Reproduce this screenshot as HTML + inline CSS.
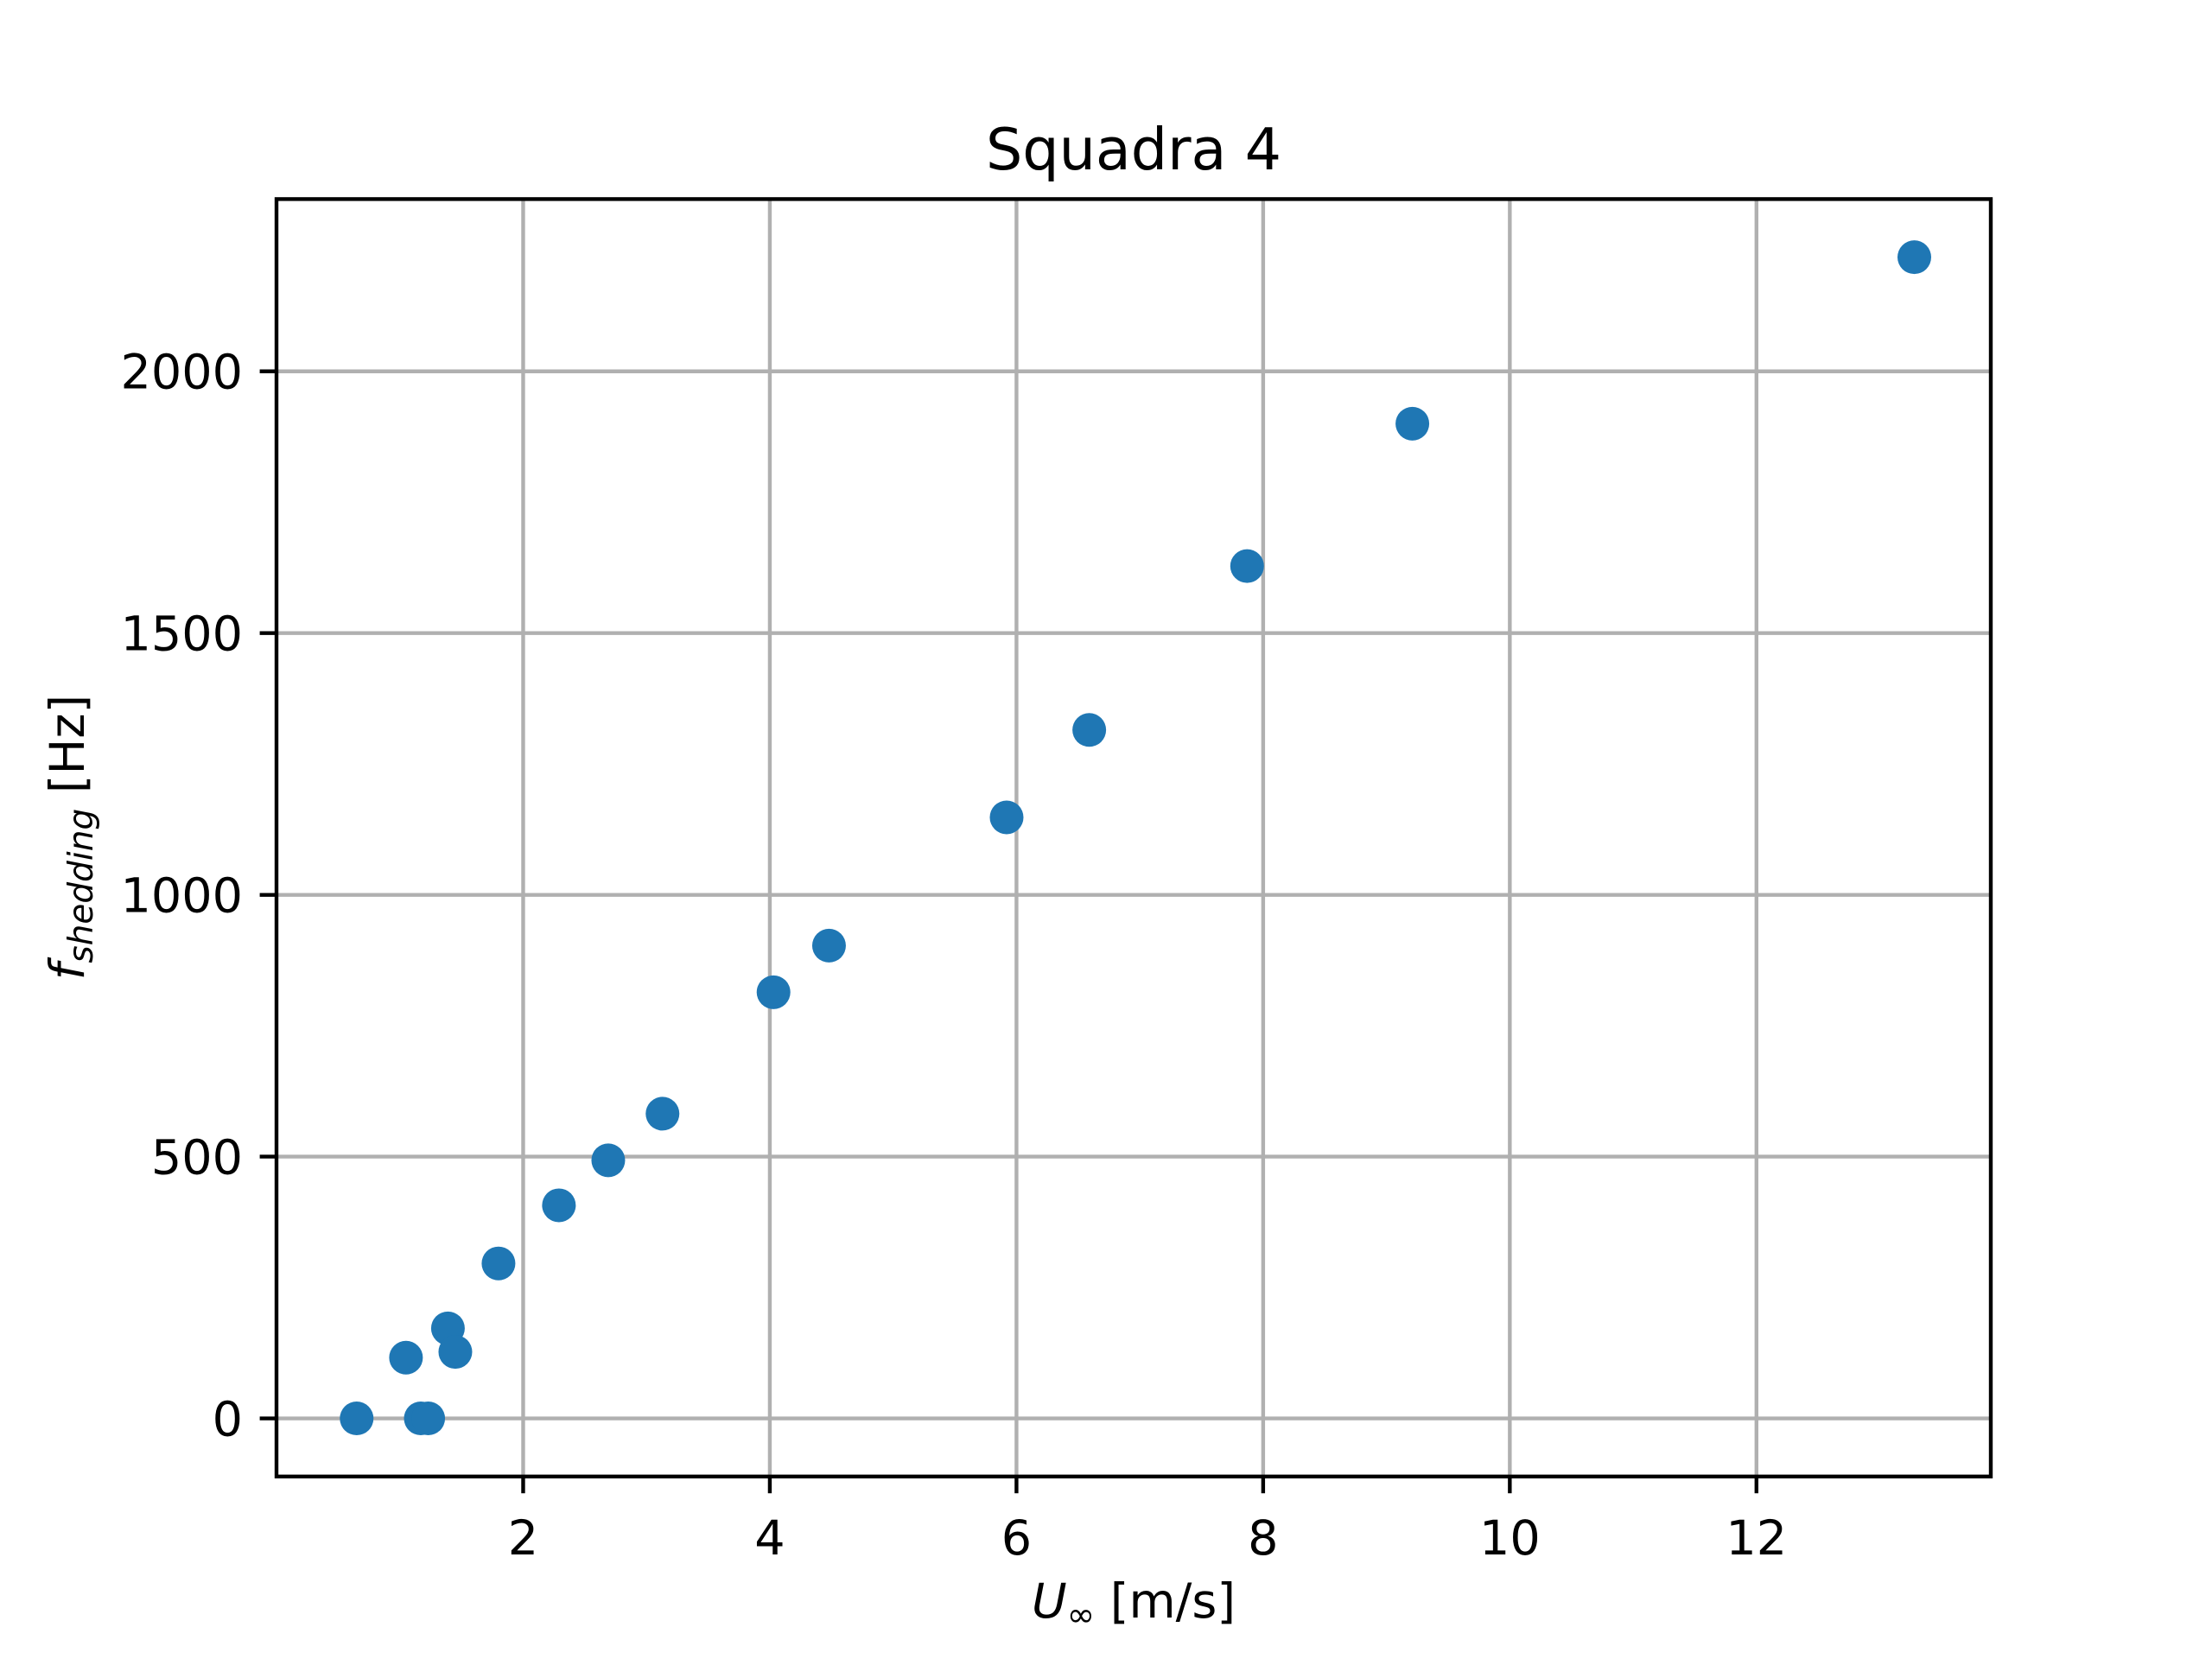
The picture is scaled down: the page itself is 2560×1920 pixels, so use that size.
<!DOCTYPE html>
<html><head><meta charset="utf-8"><style>
html,body{margin:0;padding:0;background:#fff;}
svg{display:block;font-family:"DejaVu Sans","Liberation Sans",sans-serif;}
</style></head><body>
<svg id="chart" width="2560" height="1920" viewBox="0 0 2560 1920" xmlns="http://www.w3.org/2000/svg">
<rect width="2560" height="1920" fill="#fff"/>
<g id="grid"></g>
<g id="ticks"></g>
<g id="points"></g>
<rect x="320" y="230.4" width="1984" height="1478.4" fill="none" stroke="#000" stroke-width="4.4"/>
<text x="1312" y="196" font-size="66.7" text-anchor="middle">Squadra 4</text>
<text x="1312" y="1872" font-size="55.6" text-anchor="middle"><tspan font-style="italic">U</tspan><tspan font-size="39" dy="10">∞</tspan><tspan dy="-10"> [m/s]</tspan></text>
<text transform="translate(97,969) rotate(-90)" font-size="55.6" text-anchor="middle"><tspan font-style="italic">f</tspan><tspan font-style="italic" font-size="39" dy="10">shedding</tspan><tspan dy="-10"> [Hz]</tspan></text>
</svg>
<script>
const xVals = [0.65, 1.05, 1.17, 1.23, 1.39, 1.45, 1.80, 2.29, 2.69, 3.13, 4.03, 4.48, 5.92, 6.59, 7.87, 9.21, 13.28];
const yVals = [0, 116, 0, 0, 172, 127, 296, 407, 493, 582, 814, 903, 1148, 1315, 1628, 1900, 2218];
const xTicks = [2, 4, 6, 8, 10, 12];
const yTicks = [0, 500, 1000, 1500, 2000];

const L = 320, R = 2304, T = 230.4, B = 1708.8;
const xMin = 0.0, xMax = 13.9, yMin = -111, yMax = 2329;
function sx(v){ return L + (v - xMin) / (xMax - xMin) * (R - L); }
function sy(v){ return B - (v - yMin) / (yMax - yMin) * (B - T); }
const NS = "http://www.w3.org/2000/svg";
const grid = document.getElementById('grid');
const ticks = document.getElementById('ticks');
const pts = document.getElementById('points');
function mk(tag, attrs){ const e = document.createElementNS(NS, tag); for (const k in attrs) e.setAttribute(k, attrs[k]); return e; }

xTicks.forEach(v => {
  const x = sx(v);
  const g = mk('line', {x1:x, x2:x, y1:T, y2:B, stroke:'#b0b0b0', 'stroke-width':4.4});
  
  
  grid.appendChild(g);
  const t = mk('line', {x1:x, x2:x, y1:B, y2:B+19.4, stroke:'#000', 'stroke-width':4.4});
  
  
  ticks.appendChild(t);
  const l = mk('text', {x:x, y:B+90, 'font-size':55.6, 'text-anchor':'middle'});
  l.textContent = String(v);
  
  
  ticks.appendChild(l);
});
yTicks.forEach(v => {
  const y = sy(v);
  const g = mk('line', {x1:L, x2:R, y1:y, y2:y, stroke:'#b0b0b0', 'stroke-width':4.4});
  
  
  grid.appendChild(g);
  const t = mk('line', {x1:L-19.4, x2:L, y1:y, y2:y, stroke:'#000', 'stroke-width':4.4});
  
  
  ticks.appendChild(t);
  const l = mk('text', {x:L-39, y:y+20, 'font-size':55.6, 'text-anchor':'end'});
  l.textContent = String(v);
  
  
  ticks.appendChild(l);
});
xVals.forEach((v, i) => {
  const c = mk('circle', {cx:sx(v), cy:sy(yVals[i]), r:19.5, fill:'#1f77b4'});
  
  
  pts.appendChild(c);
});
</script>
</body></html>
